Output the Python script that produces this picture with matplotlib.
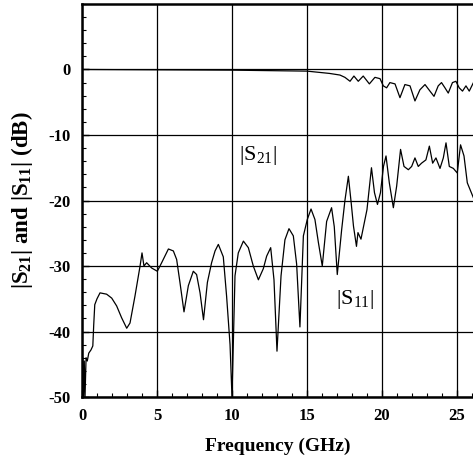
import numpy as np
import matplotlib
matplotlib.use("Agg")
import matplotlib.pyplot as plt
from matplotlib.ticker import MultipleLocator

plt.rcParams['font.family'] = ['Liberation Serif', 'DejaVu Serif']
plt.rcParams['mathtext.fontset'] = 'custom'
plt.rcParams['mathtext.rm'] = 'Liberation Serif'
plt.rcParams['mathtext.bf'] = 'Liberation Serif:bold'
plt.rcParams['axes.unicode_minus'] = False

# |S11| (dB) vs frequency (GHz)
f_s11 = [0, 0.05, 0.1, 0.15, 0.2, 0.27, 0.35, 0.45, 0.6, 0.72, 0.78, 0.85, 1.0, 1.2,
         1.64, 1.98, 2.31, 2.64, 2.98, 3.2, 3.53, 3.87, 4.0, 4.13, 4.31, 4.64, 5.02,
         5.31, 5.76, 6.09, 6.31, 6.53, 6.8, 7.09, 7.42, 7.64, 7.87, 8.1, 8.36, 8.64,
         8.87, 9.09, 9.42, 9.64, 9.87, 10.0, 10.2, 10.42, 10.76, 11.09, 11.42, 11.76,
         12.09, 12.31, 12.58, 12.8, 13.0, 13.27, 13.53, 13.8, 14.09, 14.31, 14.53,
         14.76, 15.02, 15.27, 15.53, 15.76, 16.02, 16.31, 16.64, 16.82, 17.02, 17.31,
         17.53, 17.76, 17.95, 18.1, 18.3, 18.4, 18.6, 19.0, 19.3, 19.5, 19.7, 19.9,
         20.1, 20.27, 20.49, 20.76, 20.98, 21.24, 21.47, 21.76, 21.98, 22.2, 22.42,
         22.64, 22.93, 23.16, 23.38, 23.6, 23.87, 24.09, 24.27, 24.49, 24.76, 25.02,
         25.24, 25.47, 25.69, 26.1]
s11 = [-50, -44, -50, -44.5, -50, -44, -44.5, -43.3, -42.8, -42.2, -39, -35.9, -35,
       -34.1, -34.3, -34.9, -36.1, -37.9, -39.5, -38.7, -34.6, -30.0, -28.0, -30,
       -29.5, -30.3, -30.8, -29.5, -27.4, -27.7, -29.0, -32.5, -37.0, -33, -30.8,
       -31.3, -34.1, -38.2, -32.5, -29.5, -27.7, -26.7, -28.6, -34.6, -42, -50, -31.5,
       -28, -26.2, -27.2, -30.0, -32.1, -30.4, -28.5, -27.2, -32.1, -43.0, -31.5,
       -26.0, -24.3, -25.4, -29.7, -39.3, -25.4, -22.9, -21.3, -22.9, -26.4, -30.0,
       -23.2, -21.1, -24, -31.3, -24.5, -20, -16.3, -20.4, -23.9, -27.0, -24.9, -25.9,
       -21.4, -15.0, -18.8, -20.6, -18.8, -14.8, -13.2, -17.3, -21.1, -17.8, -12.2,
       -14.8, -15.3, -14.8, -13.5, -14.8, -14.3, -13.8, -11.7, -14.3, -13.5, -15.1,
       -13.5, -11.2, -14.8, -15.1, -15.8, -11.5, -13.2, -17.3, -19.6]

# |S21| (dB) vs frequency (GHz)
f_s21 = [0, 5, 10, 15, 16.5, 17.2, 17.53, 17.87, 18.13, 18.42, 18.75, 19.16, 19.53,
         19.87, 20.09, 20.31, 20.53, 20.87, 21.2, 21.53, 21.87, 22.2, 22.53, 22.87,
         23.2, 23.47, 23.75, 23.97, 24.2, 24.42, 24.7, 24.93, 25.15, 25.37, 25.6,
         25.82, 26.1]
s21 = [0, -0.05, -0.1, -0.25, -0.6, -0.85, -1.2, -1.8, -1.0, -1.8, -1.0, -2.2, -1.2,
       -1.4, -2.5, -2.8, -2.0, -2.2, -4.3, -2.3, -2.5, -4.8, -3.1, -2.3, -3.3, -4.1,
       -2.5, -2.0, -2.8, -3.6, -2.0, -1.8, -2.8, -3.3, -2.5, -3.3, -2.0]

fig = plt.figure(figsize=(4.73, 4.63), dpi=100)
ax = fig.add_axes([0.1734, 0.1425, 0.8266, 0.8489])

ax.plot(f_s11, s11, color='black', linewidth=0.9)
ax.plot(f_s21, s21, color='black', linewidth=0.9)

ax.set_xlim(0, 26.07)
ax.set_ylim(-50, 10)
ax.xaxis.set_major_locator(MultipleLocator(5))
ax.xaxis.set_minor_locator(MultipleLocator(1))
ax.set_yticks([-50, -40, -30, -20, -10, 0])
ax.yaxis.set_minor_locator(MultipleLocator(2))
ax.grid(True, which='major', color='black', linewidth=0.9)
ax.tick_params(which='both', direction='in', top=False, right=False)
ax.tick_params(which='major', length=5, width=1, labelsize=12, pad=8)
ax.tick_params(which='minor', length=3, width=0.8)
for lab in ax.get_xticklabels() + ax.get_yticklabels():
    lab.set_fontweight('bold')

for side in ['left', 'bottom', 'top']:
    ax.spines[side].set_linewidth(1.8)
ax.spines['right'].set_visible(False)

ax.set_xlabel('Frequency (GHz)', fontsize=14, fontweight='bold', labelpad=10)
ax.set_ylabel(r'|S$_{\mathbf{21}}$| and |S$_{\mathbf{11}}$| (dB)', fontsize=16.5,
              fontweight='bold', labelpad=10)

ax.text(11.7, -13.1, r'|S$_{21}$|', fontsize=16, ha='center', va='center')
ax.text(18.2, -35.1, r'|S$_{11}$|', fontsize=16, ha='center', va='center')

fig.savefig('out.png', dpi=100)
